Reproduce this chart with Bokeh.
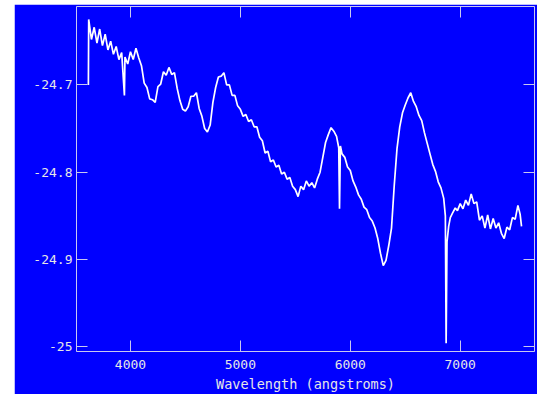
from bokeh.plotting import figure
from bokeh.models import LinearAxis, FixedTicker, Range1d, Spacer
from bokeh.layouts import column, row
from bokeh.embed import file_html
from bokeh.resources import INLINE

# ---- data ----
wavelength = [
    3617, 3620, 3645, 3670, 3695, 3720, 3745, 3770, 3795, 3820, 3845, 3870, 3895, 3920, 3945, 3950,
    3975, 4000, 4025, 4050, 4075, 4100, 4125, 4150, 4175, 4200, 4225, 4250, 4275, 4300, 4325, 4350,
    4375, 4400, 4425, 4450, 4475, 4500, 4525, 4550, 4575, 4600, 4625, 4650, 4675, 4700, 4725, 4750,
    4775, 4800, 4825, 4850, 4875, 4900, 4925, 4950, 4975, 5000, 5025, 5050, 5075, 5100, 5125, 5150,
    5175, 5200, 5225, 5250, 5275, 5300, 5325, 5350, 5375, 5400, 5425, 5450, 5475, 5500, 5525, 5550,
    5575, 5600, 5625, 5650, 5675, 5700, 5725, 5750, 5775, 5800, 5825, 5850, 5875, 5895, 5902, 5910,
    5925, 5950, 5975, 6000, 6025, 6050, 6075, 6100, 6125, 6150, 6175, 6200, 6225, 6250, 6275, 6300,
    6325, 6350, 6375, 6400, 6425, 6450, 6475, 6500, 6525, 6550, 6575, 6600, 6625, 6650, 6675, 6700,
    6725, 6750, 6775, 6800, 6825, 6850, 6865, 6872, 6880, 6895, 6910, 6930, 6955, 6975, 7000, 7025,
    7050, 7075, 7100, 7125, 7150, 7175, 7200, 7225, 7250, 7275, 7300, 7325, 7350, 7375, 7400, 7425,
    7450, 7475, 7500, 7525, 7545, 7558,
]
log_flux = [
    -24.700, -24.625, -24.648, -24.634, -24.652, -24.636, -24.655, -24.642, -24.660, -24.650, -24.665, -24.656, -24.671, -24.663, -24.712, -24.668,
    -24.676, -24.662, -24.671, -24.658, -24.669, -24.678, -24.698, -24.703, -24.716, -24.717, -24.720, -24.702, -24.699, -24.685, -24.689, -24.680,
    -24.688, -24.686, -24.704, -24.718, -24.728, -24.730, -24.725, -24.713, -24.713, -24.709, -24.727, -24.736, -24.750, -24.754, -24.746, -24.720,
    -24.703, -24.691, -24.690, -24.686, -24.700, -24.700, -24.712, -24.712, -24.724, -24.728, -24.736, -24.734, -24.742, -24.740, -24.748, -24.748,
    -24.760, -24.764, -24.778, -24.776, -24.788, -24.786, -24.794, -24.792, -24.802, -24.800, -24.808, -24.806, -24.816, -24.820, -24.828, -24.816,
    -24.820, -24.810, -24.816, -24.812, -24.818, -24.808, -24.800, -24.783, -24.766, -24.757, -24.749, -24.753, -24.759, -24.772, -24.842, -24.770,
    -24.779, -24.783, -24.794, -24.798, -24.810, -24.817, -24.826, -24.831, -24.840, -24.843, -24.852, -24.856, -24.864, -24.876, -24.893, -24.907,
    -24.901, -24.884, -24.864, -24.815, -24.773, -24.748, -24.732, -24.723, -24.715, -24.709, -24.719, -24.725, -24.735, -24.741, -24.755, -24.767,
    -24.779, -24.791, -24.799, -24.811, -24.818, -24.830, -24.850, -24.996, -24.880, -24.862, -24.852, -24.847, -24.841, -24.844, -24.836, -24.842,
    -24.832, -24.838, -24.825, -24.836, -24.834, -24.855, -24.850, -24.864, -24.849, -24.865, -24.853, -24.864, -24.858, -24.870, -24.876, -24.863,
    -24.866, -24.852, -24.854, -24.838, -24.848, -24.862,
]

x_ticks = [4000, 5000, 6000, 7000]
y_ticks = [-25.0, -24.9, -24.8, -24.7]
y_tick_labels = ["-25", "-24.9", "-24.8", "-24.7"]
x_label = "Wavelength (angstroms)"

BLUE = "#0000ff"
FRAME = "#c8c8f0"
TEXT = "#e6e6e6"
FONT = "DejaVu Sans Mono"

p = figure(
    width=523, height=390,
    x_range=Range1d(3509, 7676), y_range=Range1d(-25.0054, -24.6102),
    output_backend="svg", toolbar_location=None,
    x_axis_location=None, y_axis_location=None,
    background_fill_color=BLUE, border_fill_color=BLUE,
    min_border_left=62, min_border_right=3, min_border_top=2, min_border_bottom=43,
)
p.outline_line_color = None
p.grid.visible = False

def style(ax, labels=True, ticks=None):
    ax.axis_line_color = FRAME
    ax.major_tick_line_color = FRAME
    ax.major_tick_in = 11
    ax.major_tick_out = 0
    ax.minor_tick_line_color = None
    ax.major_label_text_color = TEXT
    ax.major_label_text_font = FONT
    if labels:
        ax.major_label_text_font_size = "13px"
    else:
        ax.major_label_overrides = {t: "" for t in ticks}
        ax.major_label_text_font_size = "1px"
        ax.major_label_standoff = 0

xb = LinearAxis(ticker=FixedTicker(ticks=x_ticks), axis_label=x_label)
style(xb)
xb.major_label_standoff = 8
xb.axis_label_text_color = TEXT
xb.axis_label_text_font = FONT
xb.axis_label_text_font_size = "13.5px"
xb.axis_label_text_font_style = "normal"
xb.axis_label_standoff = 4
p.add_layout(xb, "below")

xt = LinearAxis(ticker=FixedTicker(ticks=x_ticks))
style(xt, labels=False, ticks=x_ticks)
p.add_layout(xt, "above")

yl = LinearAxis(ticker=FixedTicker(ticks=y_ticks),
                major_label_overrides=dict(zip(y_ticks, y_tick_labels)))
style(yl)
yl.major_label_standoff = 4
p.add_layout(yl, "left")

yr = LinearAxis(ticker=FixedTicker(ticks=y_ticks))
style(yr, labels=False, ticks=y_ticks)
p.add_layout(yr, "right")

p.line(wavelength, log_flux, line_color="white", line_width=1.7)

page = column(Spacer(width=10, height=4), row(Spacer(width=14, height=10), p))

open("out.html", "w").write(file_html(page, INLINE))
